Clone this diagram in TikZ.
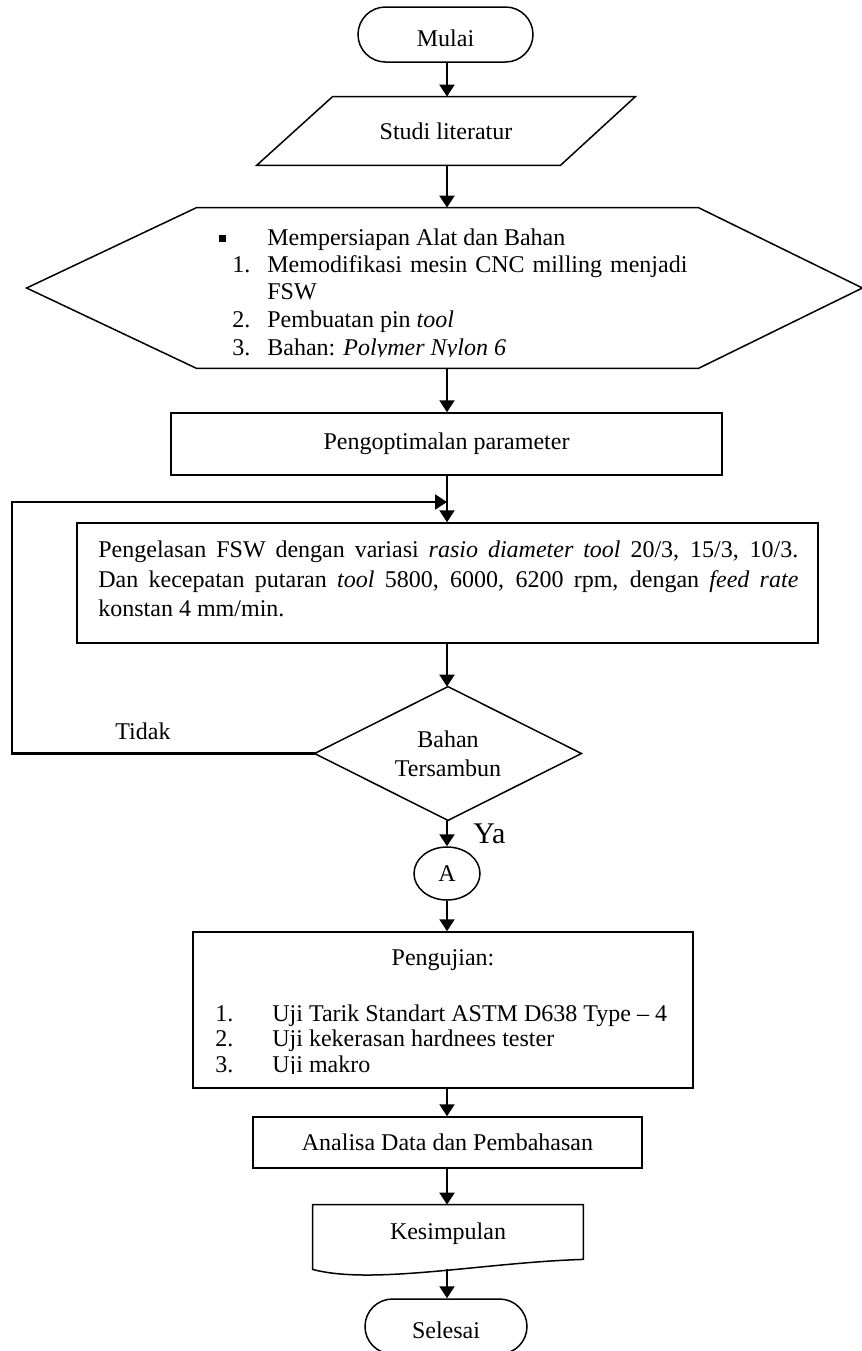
\documentclass[tikz,border=0pt]{standalone}
\usepackage{fontspec}
\setmainfont{Liberation Serif}
\usetikzlibrary{shapes.geometric,shapes.misc,arrows.meta,calc}

\begin{document}
\begin{tikzpicture}[x=0.5pt,y=-0.5pt,
  every node/.style={font=\fontsize{12}{14.4}\selectfont, inner sep=0pt},
  shapeline/.style={draw=black, line width=0.75pt},
  arr/.style={line width=1.1pt, -{Triangle[length=6pt,width=7.5pt]}},
  pill/.style={shapeline, rounded rectangle, minimum width=#1,
    minimum height=27.5pt, text height=11.5pt, text depth=0pt},
  txt/.style={anchor=base west},
  ctxt/.style={anchor=base}]

% page frame
\useasboundingbox (0,0) rectangle (862,1351);
\fill[white] (0,0) rectangle (862,1351);
\coordinate (axis) at (447,0);
\coordinate (back) at (12,502);

% start
\node[pill=87.5pt] (mulai) at (445.5,34.5) {Mulai};

% literature study (parallelogram)
\node[minimum width=189pt, minimum height=34pt] (studi) at (446,131) {Studi literatur};
\draw[shapeline] ($(studi.north west)+(76,0)$) -- (studi.north east)
  -- ($(studi.south east)+(-75,0)$) -- (studi.south west) -- cycle;

% preparation (hexagon)
\node[minimum width=417.5pt, minimum height=80pt] (prep) at (444.5,288) {};
\draw[shapeline] (prep.west) -- ($(prep.north west)+(170,0)$)
  -- ($(prep.north east)+(-164,0)$) -- (prep.east)
  -- ($(prep.south east)+(-164,0)$) -- ($(prep.south west)+(170,0)$) -- cycle;
\node[txt] (pb) at (219,245) {\raisebox{1.6pt}{\rule{3.2pt}{3.2pt}}};
\node[txt] (p1) at (267,245) {Mempersiapan Alat dan Bahan};
\node[txt] (n1) at (232,272) {1.};
\node[txt] (p2) at (267,272) {\makebox[210pt][s]{Memodifikasi mesin CNC milling menjadi}};
\node[txt] (p3) at (267,299) {FSW};
\node[txt] (n2) at (232,327.5) {2.};
\node[txt] (p4) at (267,327.5) {Pembuatan pin \textit{tool}};
\begin{scope}
  \clip (0,0) rectangle (862,356.5);
  \node[txt] (n3) at (232,355) {3.};
  \node[txt] (p5) at (267,355) {Bahan: \textit{Polymer Nylon 6}};
\end{scope}

% parameter optimisation
\node[shapeline, minimum width=275.5pt, minimum height=31pt] (opt) at (446.5,444) {Pengoptimalan parameter};

% welding
\node[shapeline, minimum width=370.5pt, minimum height=60pt] (weld) at (447.5,583) {};
\node[txt] (w1) at (98,557) {\makebox[350pt][s]{Pengelasan FSW dengan variasi \textit{rasio diameter tool} 20/3, 15/3, 10/3.}};
\node[txt] (w2) at (98,587) {\makebox[350pt][s]{Dan kecepatan putaran \textit{tool} 5800, 6000, 6200 rpm, dengan \textit{feed rate}}};
\node[txt] (w3) at (98,616) {konstan 4 mm/min.};

% decision
\node[minimum width=133pt, minimum height=66.5pt, align=center] (dec) at (448,753.5) {Bahan\\Tersambun};
\draw[shapeline] (dec.north) -- (dec.east) -- (dec.south) -- (dec.west) -- cycle;
\node[txt] (tidak) at (115,739) {Tidak};
\node[txt, font=\fontsize{15}{18}\selectfont] (ya) at (473,843) {Ya};

% connector
\node[shapeline, ellipse, minimum width=33pt, minimum height=26.5pt] (conA) at (447,873.5) {A};

% testing
\node[shapeline, minimum width=250pt, minimum height=78pt] (peng) at (443,1010) {};
\node[ctxt] (pt) at (443,965) {Pengujian:};
\node[txt] (u1n) at (215,1021) {1.};
\node[txt] (u1) at (272,1021) {Uji Tarik Standart ASTM D638 Type -- 4};
\node[txt] (u2n) at (215,1046.5) {2.};
\node[txt] (u2) at (272,1046.5) {Uji kekerasan hardnees tester};
\begin{scope}
  \clip (0,0) rectangle (862,1073.5);
  \node[txt] (u3n) at (215,1072) {3.};
  \node[txt] (u3) at (272,1072) {Uji makro};
\end{scope}

% analysis
\node[shapeline, minimum width=194.5pt, minimum height=25.5pt] (anal) at (447.5,1142.5) {Analisa Data dan Pembahasan};

% conclusion (document shape)
\node[minimum width=135pt, minimum height=32pt] (kes) at (448,1237) {};
\draw[shapeline] (kes.north west) -- (kes.north east) -- ($(kes.south east)+(0,-10)$)
  .. controls ($(kes.south east)+(-100,-7)$) and ($(kes.south west)+(60,16)$) .. (kes.south west) -- cycle;
\node[ctxt] (kest) at (448,1239) {Kesimpulan};

% end
\node[pill=81pt] (sel) at (446,1326.5) {Selesai};

% flow lines
\draw[arr] (axis |- mulai.south) -- (axis |- studi.north);
\draw[arr] (axis |- studi.south) -- (axis |- prep.north);
\draw[arr] (axis |- prep.south) -- (axis |- opt.north);
\draw[arr] (axis |- opt.south) -- (axis |- weld.north);
\draw[arr] (axis |- weld.south) -- (axis |- dec.north);
\draw[arr] (axis |- dec.south) -- (axis |- conA.north);
\draw[arr] (axis |- conA.south) -- (axis |- peng.north);
\draw[arr] (axis |- peng.south) -- (axis |- anal.north);
\draw[arr] (axis |- anal.south) -- (axis |- kes.north);
\draw[arr] (axis |- kes.south) -- (axis |- sel.north);
\draw[arr] (dec.west) -| (back) -- (back -| axis);
\end{tikzpicture}
\end{document}
